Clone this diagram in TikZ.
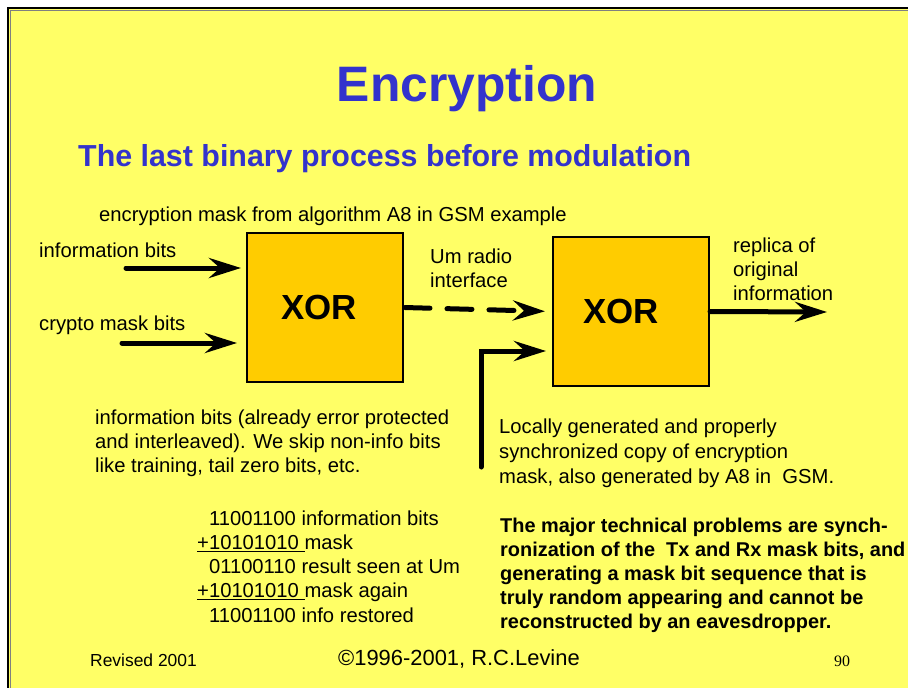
\documentclass[tikz,border=0pt]{standalone}
\usepackage{fontspec}
\setmainfont{Liberation Sans}
\newfontfamily\pagenumfont{Liberation Serif}
\usetikzlibrary{positioning,arrows.meta}

\definecolor{slideyellow}{RGB}{255,255,102}
\definecolor{xorfill}{RGB}{255,204,0}
\definecolor{titleblue}{RGB}{51,51,204}

\tikzset{
  xorbox/.style={draw=black, line width=2bp, fill=xorfill, minimum width=156bp, minimum height=149bp, inner sep=0, font=\fontsize{35}{40}\selectfont\bfseries},
  bigarrow/.style={line width=5bp, line cap=round, line join=miter, -{Stealth[length=32bp, width=20bp, inset=11bp]}},
  txt/.style={font=\fontsize{20.3}{24}\selectfont, inner sep=0, anchor=base west, align=left},
  heading/.style={font=\bfseries, text=titleblue, inner sep=0}
}

\begin{document}
\begin{tikzpicture}[x=1bp,y=-1bp]
  \useasboundingbox (0,0) rectangle (908,688);
  \clip (0,0) rectangle (908,688);
  \fill[white] (0,0) rectangle (908,688);
  \draw[line width=2bp, fill=slideyellow] (8,8) rectangle (930,710);
  \draw[gray, line width=0.8bp] (10.5,930) |- (930,10.5);

  \node[heading, font=\fontsize{50}{60}\selectfont\bfseries, anchor=base] (title) at (467,102) {Encryption};
  \node[heading, font=\fontsize{30.5}{36}\selectfont\bfseries, anchor=base west] (subtitle) at (78,167) {The last binary process before modulation};

  \node[xorbox] (xor1) at (325,307.5) {XOR\hspace*{12bp}};
  \node[xorbox] (xor2) at (631,311.5) {XOR\hspace*{20bp}};

  % multi-line texts sit on the baseline of their last line
  \node[txt] (masktop) at (99,221) {encryption mask from algorithm A8 in GSM example};
  \node[txt] (infolbl) at (39,257) {information bits};
  \node[txt] (cryptolbl) at (39,330) {crypto mask bits};
  \node[txt] (umlbl) at (430,287) {Um radio\\interface};
  \node[txt] (replica) at (733,300) {replica of\\original\\information};
  \node[txt] (infonote) at (95,472) {information bits (already error protected\\and interleaved). We skip non-info bits\\like training, tail zero bits, etc.};
  \node[txt, font=\fontsize{20.3}{25}\selectfont] (localnote) at (499,483) {Locally generated and properly\\synchronized copy of encryption\\mask, also generated by A8 in\ \ GSM.};
  \node[txt, font=\fontsize{20.3}{24.3}\selectfont] (sums) at (197,622) {\phantom{+}11001100 information bits\\\underline{+10101010\ }mask\\\phantom{+}01100110 result seen at Um\\\underline{+10101010\ }mask again\\\phantom{+}11001100 info restored};
  \node[txt, font=\fontsize{20}{24}\selectfont\bfseries] (problems) at (500,628) {The major technical problems are synch-\\ronization of the\ \ Tx and Rx mask bits, and\\generating a mask bit sequence that is\\truly random appearing and cannot be\\reconstructed by an eavesdropper.};

  \coordinate (infostart) at (126,268);
  \coordinate (cryptostart) at (122,343);
  \coordinate (replicaend) at (827,312);
  \coordinate (maskstart) at (481,467);
  \coordinate (maskend) at (553,351);

  \draw[bigarrow, shorten >=5bp] (infostart) -- (infostart -| xor1.west);
  \draw[bigarrow, shorten >=9bp] (cryptostart) -- (cryptostart -| xor1.west);
  \draw[bigarrow, dash pattern=on 25bp off 17bp, shorten <=1bp, shorten >=7bp] (xor1.east) -- (xor2.west);
  \draw[bigarrow] (xor2.east) -- (replicaend);
  \draw[bigarrow, shorten >=7bp] (maskstart) |- (maskend);

  \node[txt, font=\fontsize{17.5}{20}\selectfont] (revised) at (90,666) {Revised 2001};
  \node[txt, font=\fontsize{22}{26}\selectfont] (copyright) at (338,665) {©1996-2001, R.C.Levine};
  \node[txt, font=\pagenumfont\fontsize{16}{20}\selectfont] (pagenum) at (834,666) {90};
\end{tikzpicture}
\end{document}
